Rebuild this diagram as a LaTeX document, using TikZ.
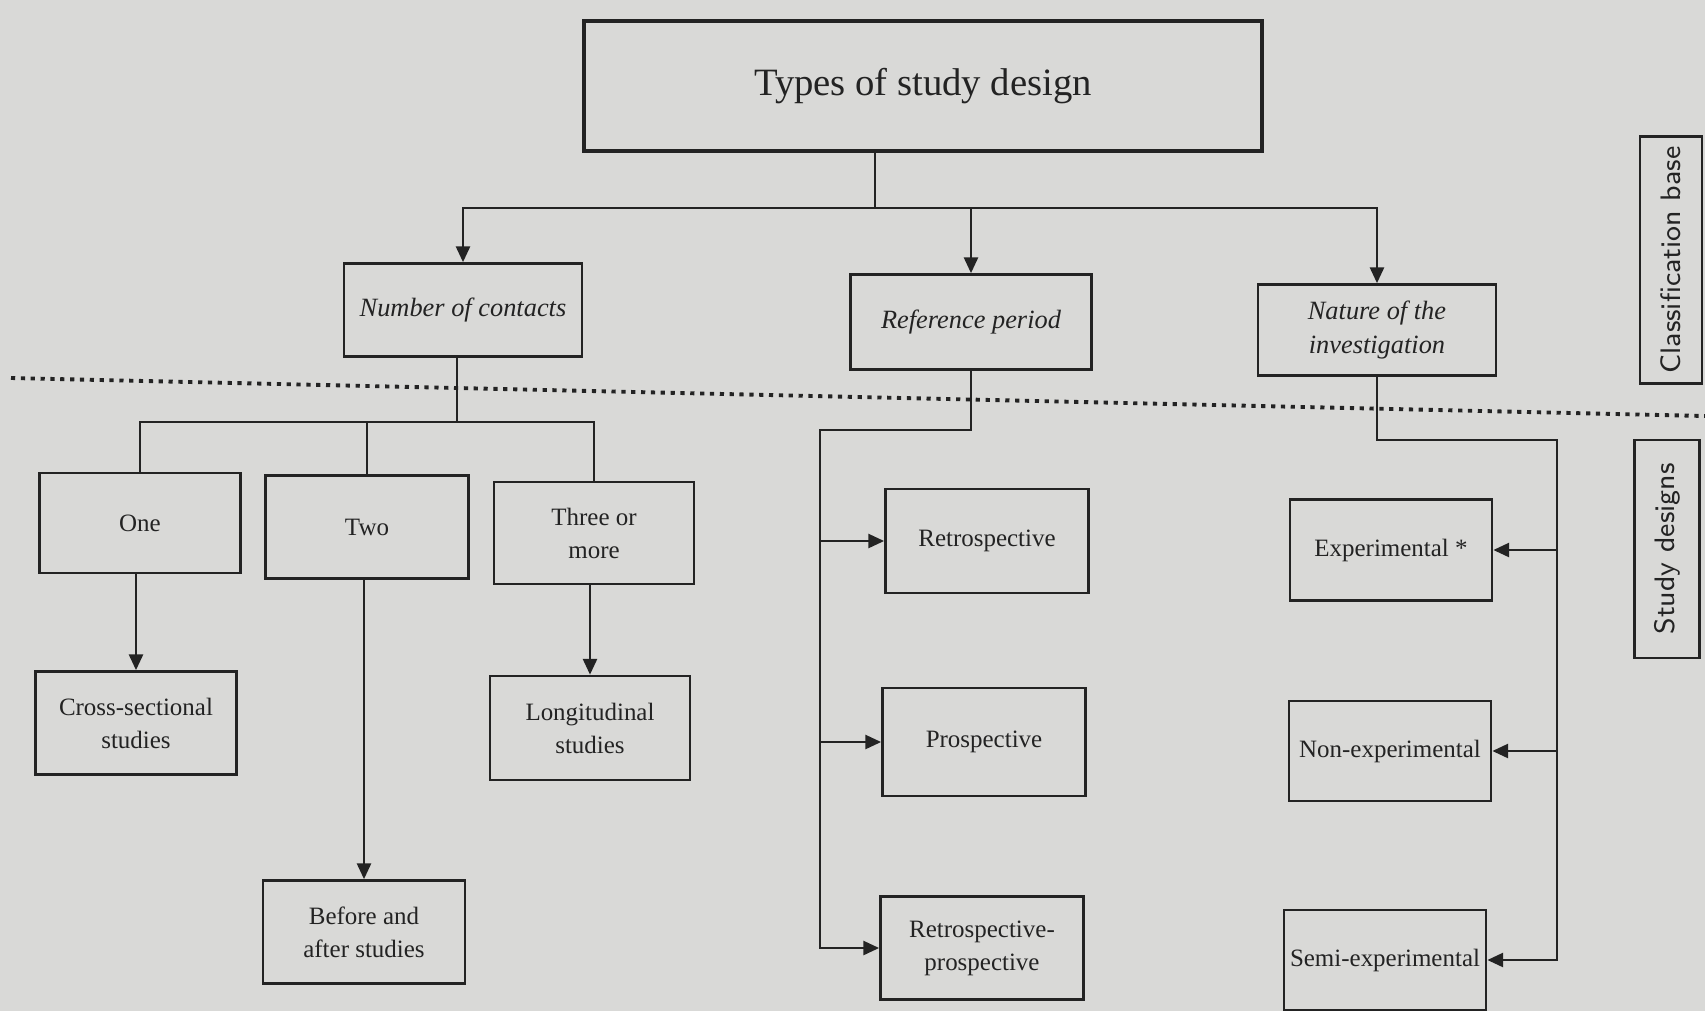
\documentclass[tikz,border=0pt]{standalone}
\usepackage{fontspec}
\setmainfont{Liberation Serif}
\usetikzlibrary{arrows.meta}
\definecolor{paper}{RGB}{217,217,215}
\definecolor{ink}{RGB}{35,35,35}
\begin{document}
\begin{tikzpicture}[x=0.01cm,y=-0.01cm,
  box/.style={draw=ink, line width=0.75pt, text=ink, align=center, inner sep=0pt,
              font=\fontsize{7.1}{9.4}\selectfont},
  cat/.style={box, font=\fontsize{7.5}{9.6}\selectfont\itshape},
  side/.style={box, rotate=90, font=\fontsize{8}{9}\selectfont\sffamily},
  link/.style={draw=ink, line width=0.7pt},
  arr/.style={link, -{Triangle[length=4.5pt,width=4pt]}},
  sep/.style={draw=ink, line width=1.1pt, dash pattern=on 1.2pt off 1.6pt},
]
\fill[paper] (0,0) rectangle (1705,1011);
\useasboundingbox (0,0) rectangle (1705,1011);

% top level
\node[box, line width=1pt, minimum width=6.78cm, minimum height=1.30cm,
      font=\fontsize{11}{13}\selectfont] (title) at (923,86) {Types of study design};

% classification bases
\node[cat, minimum width=2.38cm, minimum height=0.93cm] (noc) at (463,310) {Number of contacts};
\node[cat, minimum width=2.41cm, minimum height=0.95cm] (ref) at (971,322) {Reference period};
\node[cat, minimum width=2.38cm, minimum height=0.91cm] (nat) at (1377,330) {Nature of the\\investigation};

% number of contacts
\node[box, minimum width=2.01cm, minimum height=1.00cm] (one) at (140,523) {One};
\node[box, minimum width=2.03cm, minimum height=1.03cm] (two) at (367,527) {Two};
\node[box, minimum width=2.00cm, minimum height=1.02cm] (three) at (594,533) {Three or\\more};
\node[box, minimum width=2.01cm, minimum height=1.03cm] (cross) at (136,723) {Cross-sectional\\studies};
\node[box, minimum width=2.00cm, minimum height=1.04cm] (lon) at (590,728) {Longitudinal\\studies};
\node[box, minimum width=2.02cm, minimum height=1.03cm] (bef) at (364,932) {Before and\\after studies};

% reference period
\node[box, minimum width=2.03cm, minimum height=1.04cm] (retro) at (987,541) {Retrospective};
\node[box, minimum width=2.03cm, minimum height=1.08cm] (pro) at (984,742) {Prospective};
\node[box, minimum width=2.03cm, minimum height=1.03cm] (rp) at (982,948) {Retrospective-\\prospective};

% nature of the investigation
\node[box, minimum width=2.02cm, minimum height=1.01cm] (exp) at (1391,550) {Experimental *};
\node[box, minimum width=2.02cm, minimum height=1.00cm] (nonexp) at (1390,751) {Non-experimental};
\node[box, minimum width=2.02cm, minimum height=1.00cm] (semi) at (1385,960) {Semi-experimental};

% side captions
\node[side, minimum width=2.47cm, minimum height=0.62cm] (cls) at (1671,260) {Classification base};
\node[side, minimum width=2.18cm, minimum height=0.65cm] (sd) at (1667,549) {Study designs};

% separator between the two levels
\coordinate (sepL) at (11,378);
\coordinate (sepR) at (1705,416);
\draw[sep] (sepL) -- (sepR);

% title to classification bases
\coordinate (j0) at (875,208);
\draw[link] (title.south -| j0) -- (j0);
\draw[arr] (j0) -| (noc.north);
\draw[arr] (j0) -| (nat.north);
\draw[arr] (ref.north |- j0) -- (ref.north);

% number of contacts branch
\coordinate (j1) at (457,422);
\draw[link] (noc.south -| j1) -- (j1);
\draw[link] (j1) -| (one.north);
\draw[link] (j1) -| (three.north);
\draw[link] (two.north |- j1) -- (two.north);
\draw[arr] (one.south -| cross.north) -- (cross.north);
\draw[arr] (two.south -| bef.north) -- (bef.north);
\draw[arr] (three.south -| lon.north) -- (lon.north);

% reference period branch
\coordinate (j2) at (820,430);
\draw[arr] (ref.south) |- (j2) |- (rp.west);
\draw[arr] (j2 |- retro.west) -- (retro.west);
\draw[arr] (j2 |- pro.west) -- (pro.west);

% nature of the investigation branch
\coordinate (j3) at (1557,440);
\draw[arr] (nat.south) |- (j3) |- (semi.east);
\draw[arr] (j3 |- exp.east) -- (exp.east);
\draw[arr] (j3 |- nonexp.east) -- (nonexp.east);
\end{tikzpicture}
\end{document}
